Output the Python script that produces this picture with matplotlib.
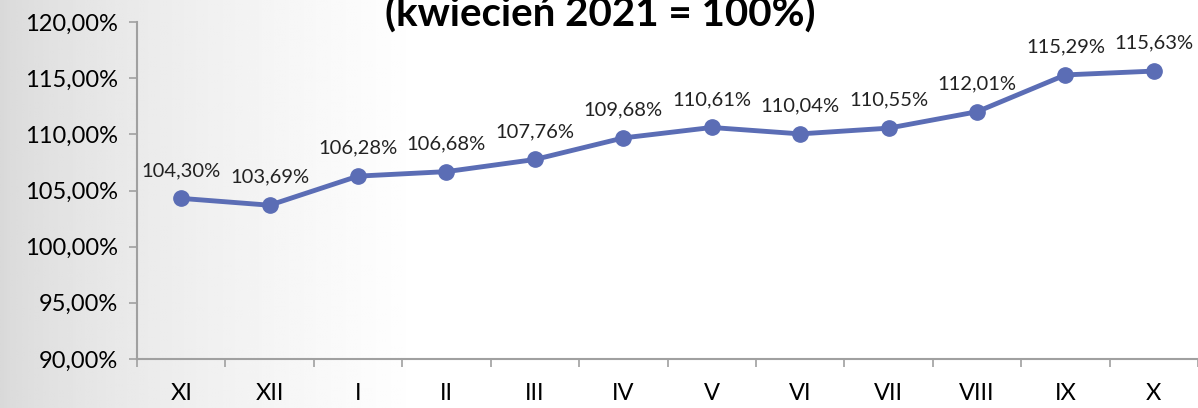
import numpy as np
import matplotlib.pyplot as plt

months = ["XI", "XII", "I", "II", "III", "IV", "V", "VI", "VII", "VIII", "IX", "X"]
values = [104.30, 103.69, 106.28, 106.68, 107.76, 109.68, 110.61, 110.04, 110.55, 112.01, 115.29, 115.63]
y_ticks = [90, 95, 100, 105, 110, 115, 120]

plt.rcParams['font.family'] = ['Lato', 'DejaVu Sans']

fig = plt.figure(figsize=(11.98, 4.08), dpi=100)

# background: grey on the left fading to white
bg = fig.add_axes([0, 0, 1, 1], zorder=-10)
grad = np.linspace(0, 1, 400)
shade = 0.85 + 0.15 * np.clip(grad / 0.35, 0, 1) ** 0.7
bg.imshow(np.tile(shade, (10, 1)), aspect='auto', cmap='gray', vmin=0, vmax=1,
          extent=[0, 1, 0, 1])
bg.axis('off')

ax = fig.add_axes([137 / 1198, 1 - 359 / 408, 1 - 137 / 1198, (359 - 22) / 408])
ax.patch.set_alpha(0)

x = np.arange(len(months))
color = '#5b6db5'
ax.plot(x, values, color=color, lw=3.5, marker='o', ms=11, solid_capstyle='round')

for xi, v in zip(x, values):
    ax.annotate(f"{v:.2f}".replace('.', ',') + '%', (xi, v), xytext=(0, 14),
                textcoords='offset points', ha='center', va='bottom', fontsize=14.5,
                color='#222222')

ax.set_xlim(-0.5, len(months) - 0.5)
ax.set_ylim(90, 120)
ax.set_yticks(y_ticks)
ax.set_yticklabels([f"{v:.2f}".replace('.', ',') + '%' for v in y_ticks], fontsize=17)

ax.set_xticks(np.arange(-0.5, len(months), 1))
ax.set_xticklabels([])
ax.set_xticks(x, minor=True)
ax.set_xticklabels(months, minor=True, fontsize=17)
ax.tick_params(axis='x', which='major', length=6, color='#a0a0a0', width=1.2)
ax.tick_params(axis='x', which='minor', length=0, pad=17)
ax.tick_params(axis='y', length=6, color='#a0a0a0', width=1.2, pad=8)

for s in ['top', 'right']:
    ax.spines[s].set_visible(False)
for s in ['left', 'bottom']:
    ax.spines[s].set_color('#a0a0a0')
    ax.spines[s].set_linewidth(1.5)

fig.text(600 / 1198, 1 - 27 / 408, "(kwiecień 2021 = 100%)", ha='center', va='baseline',
         fontsize=29, fontweight='bold', color='black')

plt.savefig('out.png', dpi=100)
